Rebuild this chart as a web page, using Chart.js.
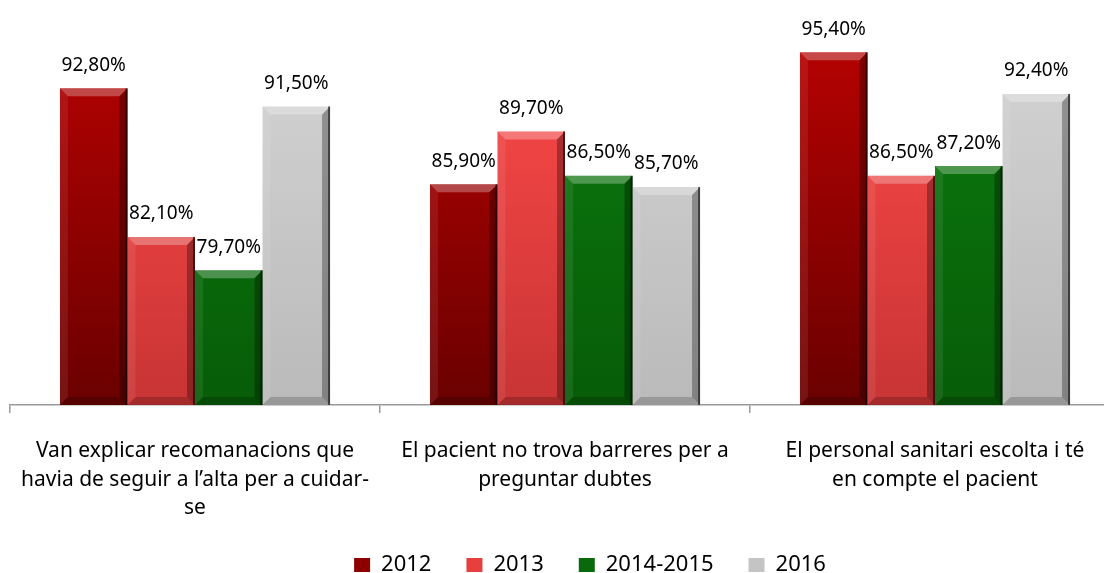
<!DOCTYPE html>
<html lang="ca">
<head>
    <meta charset="UTF-8">
    <title>Enquesta de satisfacció</title>
    <script src="https://cdn.jsdelivr.net/npm/chart.js"></script>
    <style>
        html, body { margin: 0; padding: 0; background: #fff; overflow: hidden; }
        #wrap { position: absolute; left: 0; top: 0; width: 1180px; height: 586px; }
    </style>
</head>
<body>
    <div id="wrap">
        <canvas id="satisfChart"></canvas>
    </div>

    <script>
        // categories (wrapped the same way as the original)
        const categories = [
            ['Van explicar recomanacions que', 'havia de seguir a l\u2019alta per a cuidar-', 'se'],
            ['El pacient no trova barreres per a', 'preguntar dubtes'],
            ['El personal sanitari escolta i té', 'en compte el pacient']
        ];
        const seriesNames = ['2012', '2013', '2014-2015', '2016'];
        const values2012 = [92.8, 85.9, 95.4];
        const values2013 = [82.1, 89.7, 86.5];
        const values2014 = [79.7, 86.5, 87.2];
        const values2016 = [91.5, 85.7, 92.4];

        // top / bottom colour of each bar gradient, and flat legend colour
        const gradTop = ['#b80202', '#ff4a4a', '#0b7c0e', '#d4d4d4'];
        const gradBottom = ['#6a0000', '#c83434', '#075c08', '#bababa'];
        const flatColors = ['#8e0000', '#e83e3e', '#086a0a', '#c4c4c4'];

        Chart.defaults.font.family = "'Noto Sans', sans-serif";
        Chart.defaults.color = '#000';

        function barGradient(i) {
            return function(context) {
                const area = context.chart.chartArea;
                if (!area) return flatColors[i];
                const g = context.chart.ctx.createLinearGradient(0, area.top, 0, area.bottom);
                g.addColorStop(0, gradTop[i]);
                g.addColorStop(1, gradBottom[i]);
                return g;
            };
        }

        const allValues = [values2012, values2013, values2014, values2016];
        const datasets = seriesNames.map((name, i) => ({
            label: name,
            data: allValues[i],
            backgroundColor: barGradient(i),
            borderWidth: 0
        }));

        // bevel edges + value labels on top of each bar
        const bevelAndLabels = {
            id: 'bevelAndLabels',
            afterDatasetsDraw(chart) {
                const ctx = chart.ctx;
                const area = chart.chartArea;
                ctx.save();
                chart.data.datasets.forEach((ds, di) => {
                    const meta = chart.getDatasetMeta(di);
                    meta.data.forEach((bar, j) => {
                        const p = bar.getProps(['x', 'y', 'base', 'width'], true);
                        const x0 = p.x - p.width / 2, x1 = p.x + p.width / 2;
                        const top = p.y, bot = Math.min(p.base, area.bottom), b = 8;
                        const poly = (pts, fill) => {
                            ctx.beginPath();
                            ctx.moveTo(pts[0][0], pts[0][1]);
                            for (let k = 1; k < pts.length; k++) ctx.lineTo(pts[k][0], pts[k][1]);
                            ctx.closePath();
                            ctx.fillStyle = fill;
                            ctx.fill();
                        };
                        poly([[x0, top], [x1, top], [x1 - b, top + b], [x0 + b, top + b]], 'rgba(255,255,255,0.28)');
                        poly([[x1, top], [x1, bot], [x1 - b, bot - b], [x1 - b, top + b]], 'rgba(0,0,0,0.30)');
                        poly([[x0, top], [x0 + b, top + b], [x0 + b, bot - b], [x0, bot]], 'rgba(255,255,255,0.08)');
                        poly([[x0, bot], [x0 + b, bot - b], [x1 - b, bot - b], [x1, bot]], 'rgba(0,0,0,0.18)');
                        ctx.fillStyle = 'rgba(0,0,0,0.55)';
                        ctx.fillRect(x1 - 2, top, 2, bot - top);

                        const v = ds.data[j];
                        ctx.fillStyle = '#000';
                        ctx.font = "19px 'Noto Sans', sans-serif";
                        ctx.textAlign = 'center';
                        ctx.textBaseline = 'middle';
                        ctx.fillText(v.toFixed(2).replace('.', ',') + '%', p.x, top - 23);
                    });
                });
                ctx.restore();
            }
        };

        // invisible y axes only used to reserve space left / right of the plot
        const hiddenAxis = (pos, w) => ({
            type: 'linear',
            position: pos,
            min: 70,
            max: 97,
            grid: { display: false },
            border: { display: false },
            ticks: { display: false },
            afterFit(scale) { scale.width = w; }
        });

        const ctx = document.getElementById('satisfChart').getContext('2d');
        new Chart(ctx, {
            type: 'bar',
            data: {
                labels: categories,
                datasets: datasets
            },
            options: {
                responsive: true,
                maintainAspectRatio: false,
                animation: false,
                layout: { padding: { left: 0, right: 0, top: 30, bottom: 0 } },
                datasets: {
                    bar: { categoryPercentage: 0.73, barPercentage: 1.0 }
                },
                plugins: {
                    tooltip: { enabled: false },
                    legend: {
                        position: 'bottom',
                        labels: {
                            boxWidth: 16,
                            boxHeight: 14,
                            padding: 35,
                            font: { size: 22 },
                            color: '#000',
                            generateLabels(chart) {
                                const items = Chart.defaults.plugins.legend.labels.generateLabels(chart);
                                items.forEach((it, i) => {
                                    it.fillStyle = flatColors[i];
                                    it.strokeStyle = flatColors[i];
                                    it.lineWidth = 0;
                                });
                                return items;
                            }
                        }
                    }
                },
                scales: {
                    x: {
                        grid: {
                            offset: true,
                            drawOnChartArea: false,
                            drawTicks: true,
                            tickLength: 8,
                            color: '#9a9a9a',
                            lineWidth: 1.5
                        },
                        border: { color: '#9a9a9a', width: 1.5 },
                        ticks: {
                            padding: 24,
                            maxRotation: 0,
                            font: { size: 21, lineHeight: 1.35 },
                            color: '#000'
                        },
                        afterFit(scale) {
                            scale.height = 114;
                            scale.paddingLeft = 0;
                            scale.paddingRight = 0;
                        }
                    },
                    y: hiddenAxis('left', 10),
                    yRight: hiddenAxis('right', 60)
                }
            },
            plugins: [bevelAndLabels]
        });
    </script>
</body>
</html>
